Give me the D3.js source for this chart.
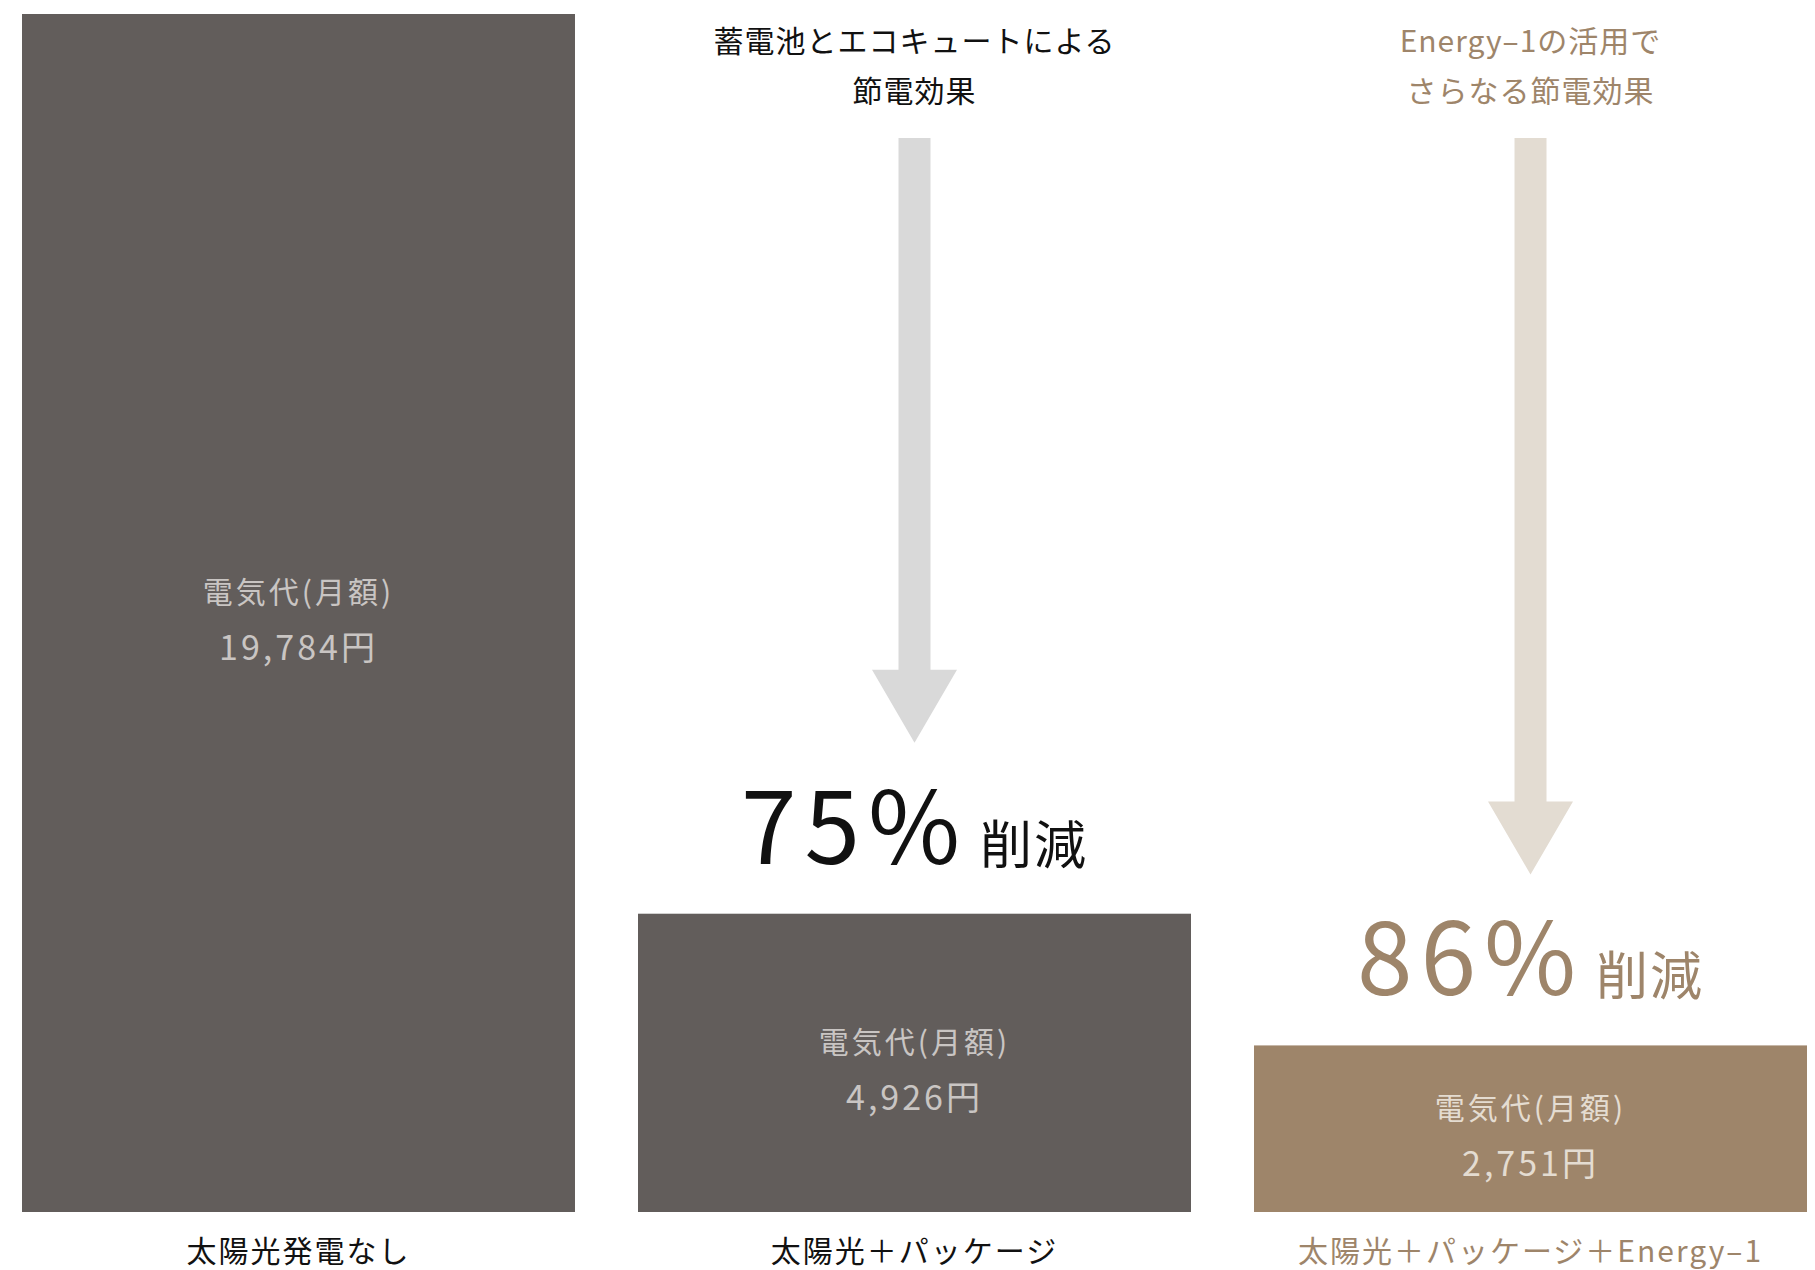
<!DOCTYPE html>
<html>
<head>
<meta charset="utf-8">
<script src="https://cdn.jsdelivr.net/npm/d3@7"></script>
<style>
  body { margin: 0; background: #fff; }
  text { font-family: "Noto Sans CJK JP", "Noto Sans", sans-serif; }
</style>
</head>
<body>
<div class="chart"></div>
<script>
// data
const categories = ["太陽光発電なし", "太陽光＋パッケージ", "太陽光＋パッケージ＋Energy–1"];
const costs = [19784, 4926, 2751];
const valueLabel = "電気代(月額)";
const headings = [
    null,
    ["蓄電池とエコキュートによる", "節電効果"],
    ["Energy–1の活用で", "さらなる節電効果"]
];
const barColors = ["#625d5b", "#625d5b", "#9e856a"];
const innerText = ["#c9c5c3", "#c9c5c3", "#e4dcd1"];
const accent = ["#111111", "#111111", "#9e856a"];
const arrowColors = [null, "#d9d9d9", "#e3dcd2"];

const width = 1815, height = 1270;

let x = d3.scaleBand().domain(categories).range([22, 1807]).paddingInner(0.1023).paddingOuter(0);
let y = d3.scaleLinear().domain([0, 19784]).range([1212, 14]);

const svg = d3.select(".chart").append("svg")
    .attr("width", width)
    .attr("height", height);

svg.append("rect").attr("width", width).attr("height", height).attr("fill", "#fff");

const rows = categories.map(function (c, i) {
    return { cat: c, cost: costs[i], i: i };
});

// bars
svg.selectAll("rect.bar").data(rows).enter()
    .append("rect")
        .attr("class", "bar")
        .attr("x", function (d) { return x(d.cat); })
        .attr("y", function (d) { return y(d.cost); })
        .attr("width", x.bandwidth())
        .attr("height", function (d) { return y(0) - y(d.cost); })
        .attr("fill", function (d) { return barColors[d.i]; });

// labels inside bars
const cx = function (d) { return x(d.cat) + x.bandwidth() / 2; };
const midY = function (d) { return (y(d.cost) + y(0)) / 2; };

svg.selectAll("text.lbl").data(rows).enter()
    .append("text")
        .attr("class", "lbl")
        .attr("x", cx)
        .attr("y", function (d) { return midY(d) - 10; })
        .attr("text-anchor", "middle")
        .attr("font-size", 30)
        .attr("letter-spacing", 3)
        .attr("fill", function (d) { return innerText[d.i]; })
        .text(valueLabel);

svg.selectAll("text.val").data(rows).enter()
    .append("text")
        .attr("class", "val")
        .attr("x", cx)
        .attr("y", function (d) { return midY(d) + 47; })
        .attr("text-anchor", "middle")
        .attr("font-size", 34)
        .attr("letter-spacing", 3)
        .attr("fill", function (d) { return innerText[d.i]; })
        .text(function (d) { return d3.format(",")(d.cost) + "円"; });

// category labels
svg.selectAll("text.cat").data(rows).enter()
    .append("text")
        .attr("class", "cat")
        .attr("x", cx)
        .attr("y", 1262)
        .attr("text-anchor", "middle")
        .attr("font-size", 30)
        .attr("letter-spacing", 2)
        .attr("fill", function (d) { return d.i == 2 ? accent[2] : "#111"; })
        .text(function (d) { return d.cat; });

// headings, arrows, reduction text (not for the first bar)
const later = rows.filter(function (d) { return d.i > 0; });

later.forEach(function (d) {
    const g = svg.append("g");
    headings[d.i].forEach(function (line, k) {
        g.append("text")
            .attr("x", cx(d))
            .attr("y", 52 + k * 50)
            .attr("text-anchor", "middle")
            .attr("font-size", 30)
            .attr("letter-spacing", 1)
            .attr("fill", accent[d.i])
            .text(line);
    });

    // arrow: shaft from top, head ending above the bar
    const tip = y(d.cost) - 171;
    const top = 138, shaftW = 32, headW = 85, headH = 73;
    const c = cx(d);
    const path = d3.path();
    path.moveTo(c - shaftW / 2, top);
    path.lineTo(c + shaftW / 2, top);
    path.lineTo(c + shaftW / 2, tip - headH);
    path.lineTo(c + headW / 2, tip - headH);
    path.lineTo(c, tip);
    path.lineTo(c - headW / 2, tip - headH);
    path.lineTo(c - shaftW / 2, tip - headH);
    path.closePath();
    g.append("path").attr("d", path.toString()).attr("fill", arrowColors[d.i]);

    // reduction percentage
    const pct = Math.round((1 - d.cost / costs[0]) * 100);
    const t = g.append("text")
        .attr("x", c)
        .attr("y", y(d.cost) - 50)
        .attr("text-anchor", "middle")
        .attr("fill", accent[d.i]);
    t.append("tspan")
        .attr("font-size", 100)
        .attr("letter-spacing", 8)
        .text(pct + "%");
    t.append("tspan")
        .attr("dx", 12)
        .attr("font-size", 52)
        .attr("letter-spacing", 2)
        .text("削減");
});
</script>
</body>
</html>
